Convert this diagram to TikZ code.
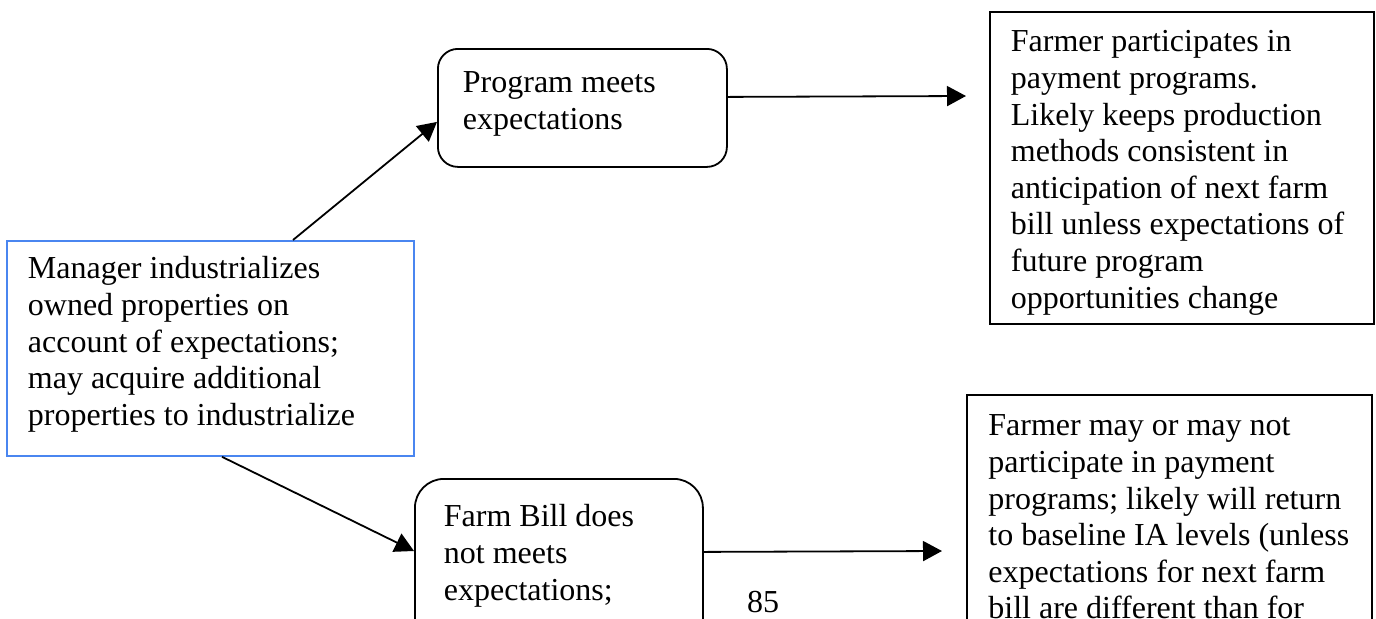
\documentclass[tikz,border=0pt]{standalone}
\usepackage{fontspec}
\setmainfont{Liberation Serif}
\usetikzlibrary{arrows.meta}
\definecolor{boxblue}{RGB}{74,134,240}
% top-aligned text block of fixed height #1 and width #2
\newcommand{\boxtext}[3]{\parbox[c][#1][t]{#2}{\raggedright\strut #3}}

\begin{document}
\begin{tikzpicture}[x=0.5pt,y=-0.5pt,
  font=\fontsize{16}{18.3}\selectfont,
  boxbase/.style={draw, line width=0.9pt, anchor=north west, inner sep=0pt},
  conn/.style={line width=0.9pt, -{Triangle[length=9.5pt,width=10pt]}}]

\useasboundingbox (0,0) rectangle (1376,618);

% starting situation
\node[boxbase, draw=boxblue, inner xsep=10.5pt, inner ysep=6.2pt] (mgr) at (6,240)
  {\boxtext{95.1pt}{182.5pt}{Manager industrializes\\owned properties on\\account of expectations;\\may acquire additional\\properties to industrialize}};

% the two outcomes
\node[boxbase, rounded corners=10pt, inner xsep=12.5pt, inner ysep=9.2pt] (prog) at (437,48)
  {\boxtext{40.6pt}{119.5pt}{Program meets\\expectations}};
\node[boxbase, rounded corners=14.5pt, inner xsep=14.5pt, inner ysep=11.2pt] (fbill) at (414,478)
  {\boxtext{63.6pt}{115pt}{Farm Bill does\\not meets\\expectations;}};

% farmer responses
\node[boxbase, inner xsep=10.5pt, inner ysep=7.2pt] (farm1) at (989,11)
  {\boxtext{141.6pt}{171pt}{Farmer participates in\\payment programs.\\Likely keeps production\\methods consistent in\\anticipation of next farm\\bill unless expectations of\\future program\\opportunities change}};
\node[boxbase, inner xsep=10.75pt, inner ysep=7.7pt] (farm2) at (966,394)
  {\boxtext{144.6pt}{181pt}{Farmer may or may not\\participate in payment\\programs; likely will return\\to baseline IA levels (unless\\expectations for next farm\\bill are different than for}};

% page number
\node[anchor=base, inner sep=0pt] (pg) at (763,612) {85};

\coordinate (t1) at (966,96);
\coordinate (t2) at (942,551);

\draw[conn] ([xshift=143.5pt]mgr.north west) -- ([yshift=-7pt]prog.west);
\draw[conn] ([xshift=108pt]mgr.south west) -- ([yshift=-36.5pt]fbill.north west);
\draw[conn] ([yshift=5.5pt]prog.east) -- (t1);
\draw[conn] ([yshift=6.5pt]fbill.east) -- (t2);
\end{tikzpicture}
\end{document}
